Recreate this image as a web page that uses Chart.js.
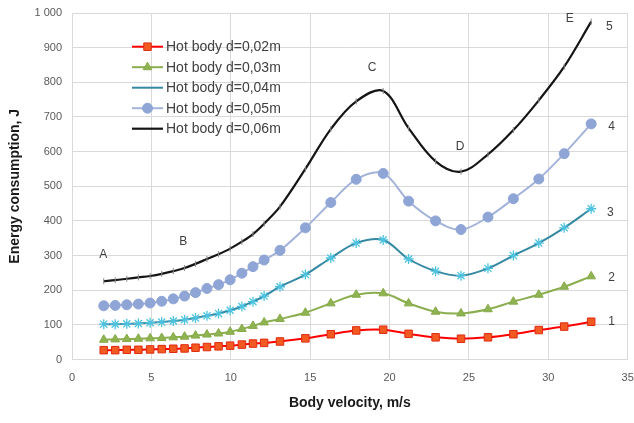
<!DOCTYPE html>
<html>
<head>
<meta charset="utf-8">
<script src="https://cdn.jsdelivr.net/npm/chart.js@4.4.0/dist/chart.umd.min.js"></script>
<style>
  html, body { margin: 0; padding: 0; background: #fff; }
  #wrap { width: 634px; height: 423px; }
</style>
</head>
<body>
<div id="wrap"><canvas id="energyChart" width="634" height="423"></canvas></div>
<script>
// --- data ---
const velocity = [2.0, 2.72, 3.45, 4.18, 4.92, 5.65, 6.38, 7.09, 7.78, 8.5, 9.23, 9.96, 10.7, 11.4, 12.1,
                  13.1, 14.7, 16.3, 17.9, 19.6, 21.2, 22.9, 24.5, 26.2, 27.8, 29.4, 31.0, 32.7];

const body002 = [27, 27, 28, 28, 29, 30, 31, 32, 34, 36, 38, 40, 43, 46, 48, 52, 61, 73, 84, 86, 74, 64, 60, 64, 73, 85, 95, 109];
const body003 = [57, 58, 59, 60, 61, 62, 64, 66, 69, 72, 75, 80, 88, 97, 107, 117, 135, 162, 187, 191, 162, 138, 133, 145, 167, 187, 210, 240];
const body004 = [102, 102, 103, 104, 106, 108, 111, 115, 120, 126, 133, 142, 153, 167, 183, 210, 245, 293, 336, 345, 290, 255, 242, 263, 300, 336, 380, 435];
const body005 = [155, 156, 158, 160, 163, 168, 175, 183, 193, 205, 216, 230, 249, 268, 287, 315, 380, 453, 520, 537, 457, 400, 375, 411, 464, 521, 594, 680];
const body006 = [226, 229, 233, 237, 241, 247, 255, 264, 276, 290, 304, 320, 340, 362, 392, 441, 550, 665, 745, 775, 668, 572, 542, 592, 662, 748, 845, 975];

const seriesNames = ['Hot body d=0,02m', 'Hot body d=0,03m', 'Hot body d=0,04m', 'Hot body d=0,05m', 'Hot body d=0,06m'];

// point letters and curve numbers on the plot
const noteText = ['A', 'B', 'C', 'D', 'E', '1', '2', '3', '4', '5'];
const noteX = [1.97, 7.0, 18.9, 24.45, 31.35, 33.98, 33.98, 33.9, 33.98, 33.85];
const noteY = [302, 340, 842, 614, 985, 108, 235, 423, 672, 961];

const FONT = '"Liberation Sans", Arial, sans-serif';

function pts(values) {
    return velocity.map((v, i) => ({ x: v, y: values[i] }));
}

// legend drawn inside the plot, like the original
const innerLegend = {
    id: 'innerLegend',
    afterDatasetsDraw(chart) {
        const ctx = chart.ctx;
        ctx.save();
        chart.data.datasets.forEach((ds, i) => {
            const y = 46.7 + i * 20.5;
            ctx.strokeStyle = ds.borderColor;
            ctx.lineWidth = ds.borderWidth;
            ctx.beginPath();
            ctx.moveTo(132, y);
            ctx.lineTo(163, y);
            ctx.stroke();
            if (ds.legendMarker && Chart.helpers && Chart.helpers.drawPoint) {
                ctx.fillStyle = ds.pointBackgroundColor;
                ctx.strokeStyle = ds.pointBorderColor;
                ctx.lineWidth = ds.pointBorderWidth;
                Chart.helpers.drawPoint(ctx, {
                    pointStyle: ds.pointStyle,
                    radius: ds.pointRadius,
                    borderWidth: ds.pointBorderWidth,
                    rotation: 0
                }, 147.5, y);
            }
            ctx.fillStyle = '#404040';
            ctx.font = '14px ' + FONT;
            ctx.textBaseline = 'middle';
            ctx.textAlign = 'left';
            ctx.fillText(ds.label, 166, y + 0.5);
        });

        // letters A..E and numbers 1..5
        const xs = chart.scales.x, ys = chart.scales.y;
        ctx.fillStyle = '#404040';
        ctx.font = '12px ' + FONT;
        ctx.textAlign = 'center';
        noteText.forEach((t, i) => {
            ctx.fillText(t, xs.getPixelForValue(noteX[i]), ys.getPixelForValue(noteY[i]));
        });
        ctx.restore();
    }
};

new Chart(document.getElementById('energyChart'), {
    type: 'line',
    data: {
        datasets: [
            {
                label: seriesNames[0], data: pts(body002),
                borderColor: '#FF0000', borderWidth: 2,
                pointStyle: 'rect', pointRadius: 5.3, pointBorderWidth: 1,
                pointBackgroundColor: '#F25A22', pointBorderColor: '#E02A10',
                legendMarker: true
            },
            {
                label: seriesNames[1], data: pts(body003),
                borderColor: '#8AAE4E', borderWidth: 2,
                pointStyle: 'triangle', pointRadius: 5, pointBorderWidth: 1,
                pointBackgroundColor: '#8FB350', pointBorderColor: '#86AA48',
                legendMarker: true
            },
            {
                label: seriesNames[2], data: pts(body004),
                borderColor: '#3689A3', borderWidth: 2,
                pointStyle: 'star', pointRadius: 5, pointBorderWidth: 1.3,
                pointBackgroundColor: '#4EC3E0', pointBorderColor: '#4EC3E0',
                legendMarker: false
            },
            {
                label: seriesNames[3], data: pts(body005),
                borderColor: '#A3B3DA', borderWidth: 2,
                pointStyle: 'circle', pointRadius: 5, pointBorderWidth: 1,
                pointBackgroundColor: '#8EA5D6', pointBorderColor: '#8EA5D6',
                legendMarker: true
            },
            {
                label: seriesNames[4], data: pts(body006),
                borderColor: '#151515', borderWidth: 2.2,
                pointStyle: 'line', pointRotation: 90, pointRadius: 3, pointBorderWidth: 1,
                pointBackgroundColor: '#8a8a8a', pointBorderColor: '#8a8a8a',
                legendMarker: false
            }
        ]
    },
    options: {
        responsive: false,
        animation: false,
        devicePixelRatio: 1,
        elements: { line: { tension: 0.35 } },
        layout: { padding: { top: 13, right: 6, left: 0, bottom: 0 } },
        plugins: { legend: { display: false }, tooltip: { enabled: false } },
        scales: {
            x: {
                type: 'linear', min: 0, max: 35,
                ticks: { stepSize: 5, padding: 12, maxRotation: 0, color: '#595959', font: { size: 11, family: FONT } },
                grid: { color: '#D9D9D9', drawTicks: false },
                border: { color: '#D9D9D9' },
                title: {
                    display: true, text: 'Body velocity, m/s', color: '#1a1a1a',
                    font: { size: 14, weight: 'bold', family: FONT },
                    padding: { top: 4, bottom: 11.6 }
                },
                afterFit(scale) {
                    scale.height = 63.5;
                    scale.paddingLeft = 0;
                    scale.paddingRight = 0;
                }
            },
            y: {
                min: 0, max: 1000,
                ticks: {
                    stepSize: 100, padding: 10, color: '#595959', font: { size: 11, family: FONT },
                    callback: v => (v === 1000 ? '1 000' : v)
                },
                grid: { color: '#D9D9D9', drawTicks: false },
                border: { color: '#D9D9D9' },
                title: {
                    display: true, text: 'Energy consumption, J', color: '#1a1a1a',
                    font: { size: 14, weight: 'bold', family: FONT },
                    padding: { top: 6.6, bottom: 4 }
                },
                afterFit(scale) {
                    scale.width = 72;
                    scale.paddingTop = 0;
                    scale.paddingBottom = 0;
                }
            }
        }
    },
    plugins: [innerLegend]
});
</script>
</body>
</html>
